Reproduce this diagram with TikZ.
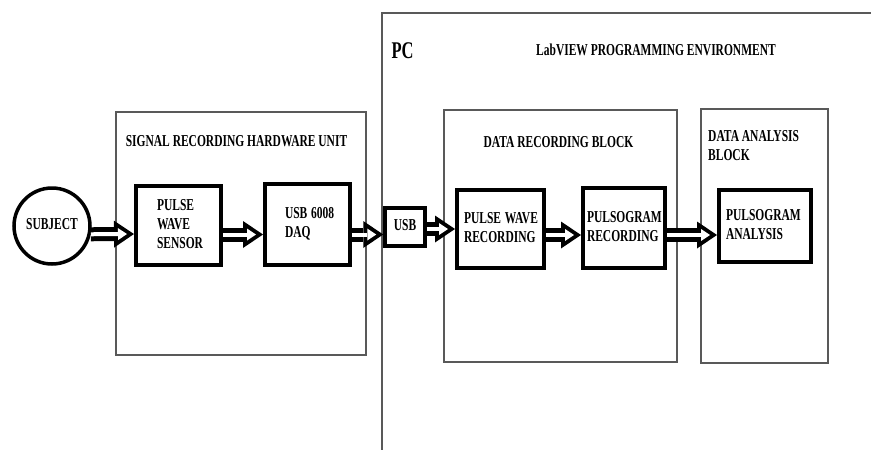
\documentclass[tikz,border=0pt]{standalone}
\usepackage{fontspec}
\setmainfont{Liberation Serif}
\usetikzlibrary{arrows.meta,positioning}

\newcommand{\tallt}[1]{\scalebox{1}[1.45]{\begin{tabular}{@{}l@{}}#1\end{tabular}}}

\begin{document}
\begin{tikzpicture}[
    x=1pt, y=-1pt,
    font=\bfseries\fontsize{11.5}{13}\selectfont,
    frame/.style={draw=black!65, line width=1.2pt, inner sep=0pt},
    blk/.style={draw, line width=4pt, inner sep=0pt, align=left},
    ttl/.style={inner sep=0pt},
    hollow/.style={line width=14pt,
                   -{Triangle[length=20pt, width=27pt, line width=0pt]},
                   postaction={draw=white, line width=4pt, shorten >=7pt,
                               -{Triangle[length=9pt, width=12pt, line width=0pt]}}}
  ]
  \useasboundingbox (0,0) rectangle (871,450);

  % frames
  \node[frame, minimum width=250pt, minimum height=243pt] (hw) at (241,233.5) {};
  \node[frame, minimum width=233pt, minimum height=252pt] (drb) at (560.5,236) {};
  \node[frame, minimum width=127pt, minimum height=254pt] (dab) at (764.5,236) {};
  \draw[frame] (382,450) -- (382,13) -- (871,13);

  % titles
  \node[ttl] (hwt) at (236.5,142.5) {\tallt{SIGNAL RECORDING HARDWARE UNIT}};
  \node[ttl, font=\bfseries\fontsize{16.5}{19}\selectfont] (pct) at (402.5,53) {\tallt{PC}};
  \node[ttl] (lvt) at (656,52) {\tallt{LabVIEW PROGRAMMING ENVIRONMENT}};
  \node[ttl] (drt) at (558.5,144) {\tallt{DATA RECORDING BLOCK}};
  \node[ttl, anchor=west] (dat) at (708,147) {\tallt{DATA ANALYSIS\\BLOCK}};

  % blocks
  \node[circle, draw, line width=3.5pt, minimum size=76pt, inner sep=0pt] (subj) at (52,226) {\tallt{SUBJECT}};
  \node[blk, minimum width=85pt, minimum height=79pt, text width=43pt] (pws) at (178.5,225.5) {\tallt{PULSE\\WAVE\\SENSOR}};
  \node[blk, minimum width=85pt, minimum height=81pt, text width=45pt] (daq) at (307.5,224.5) {\tallt{USB 6008\\DAQ}};
  \node[blk, line width=3.5pt, minimum width=40pt, minimum height=38pt, text width=40pt, align=center] (usb) at (405,227) {\tallt{USB}};
  \node[blk, minimum width=87pt, minimum height=78pt, text width=73pt] (pwr) at (500.5,229) {\tallt{PULSE WAVE\\RECORDING}};
  \node[blk, minimum width=82pt, minimum height=80pt, text width=74pt] (pgr) at (624,228) {\tallt{PULSOGRAM\\RECORDING}};
  \node[blk, minimum width=92pt, minimum height=72pt, text width=78pt] (pga) at (765,226) {\tallt{PULSOGRAM\\ANALYSIS}};

  % arrows
  \draw[hollow] (subj.-12) -- ([yshift=-8.5pt]pws.west);
  \draw[hollow] ([yshift=-9pt]pws.east) -- ([yshift=-10pt]daq.west);
  \draw[hollow] ([yshift=-10pt]daq.east) -- ([yshift=-7.5pt]usb.west);
  \draw[hollow] ([yshift=-2pt]usb.east) -- (pwr.west);
  \draw[hollow] ([yshift=-6pt]pwr.east) -- ([yshift=-7pt]pgr.west);
  \draw[hollow] ([yshift=-7pt]pgr.east) -- ([yshift=-9pt]pga.west);

\end{tikzpicture}
\end{document}
